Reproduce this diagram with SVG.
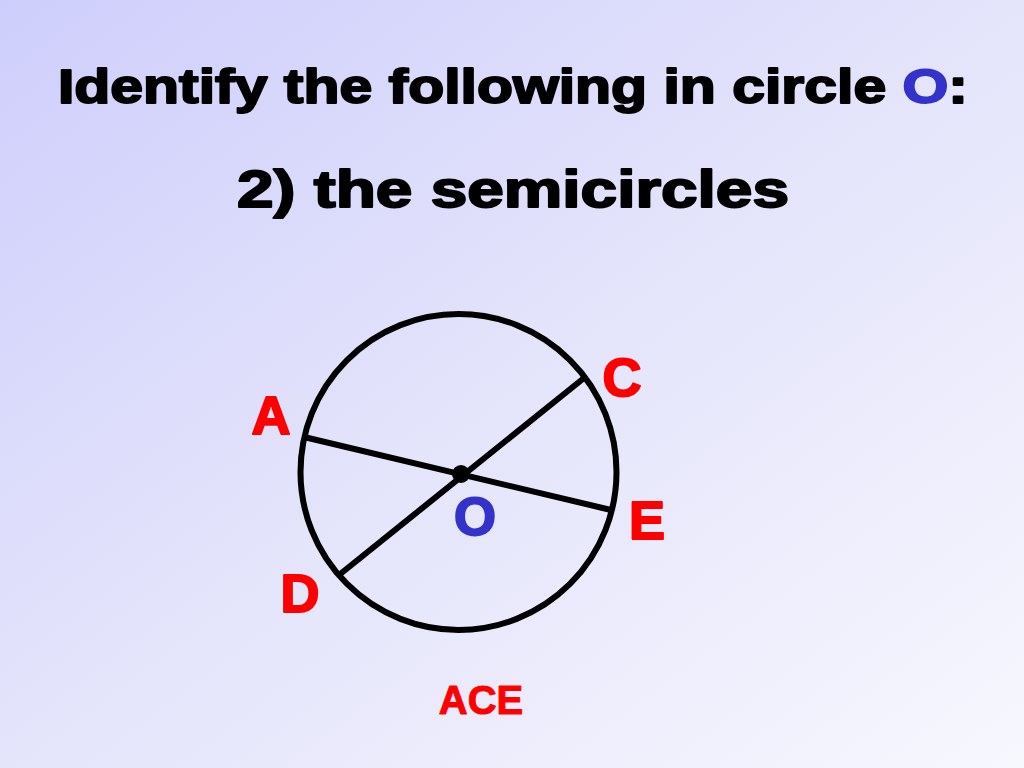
<svg xmlns="http://www.w3.org/2000/svg" width="1024" height="768" viewBox="0 0 1024 768">
  <defs>
    <linearGradient id="bg" x1="0" y1="0" x2="1" y2="1">
      <stop offset="0" stop-color="#CECEFC"/>
      <stop offset="0.5" stop-color="#E4E4FB"/>
      <stop offset="1" stop-color="#F7F7FE"/>
    </linearGradient>
    <style>
      .t { font-family: "Liberation Sans", Arial, sans-serif; font-weight: bold; stroke-linejoin: round; }
      .blk { fill: #000; stroke: #000; stroke-width: 2; }
      .red { fill: #FF0000; stroke: #FF0000; stroke-width: 2; }
      .blue { fill: #3333CC; stroke: #3333CC; stroke-width: 2; }
      .thin { stroke-width: 1; }
      .ln { stroke: #000; stroke-width: 6; fill: none; }
    </style>
  </defs>
  <rect width="1024" height="768" fill="url(#bg)"/>
  <g id="title">
    <text class="t blk" x="513" y="103" font-size="49" text-anchor="middle" textLength="910" lengthAdjust="spacingAndGlyphs">Identify the following in circle <tspan class="blue">O</tspan>:</text>
  </g>
  <g id="subtitle">
    <text class="t blk" x="513" y="207" font-size="52" text-anchor="middle" textLength="552" lengthAdjust="spacingAndGlyphs">2) the semicircles</text>
  </g>
  <g id="circle">
    <circle cx="458.5" cy="472" r="158" class="ln"/>
  </g>
  <g id="connectors">
    <line x1="304" y1="437" x2="611" y2="510" class="ln"/>
    <line x1="584" y1="378" x2="339" y2="575" class="ln"/>
  </g>
  <g id="center">
    <circle cx="461" cy="474" r="9" fill="#000"/>
  </g>
  <g id="labels">
    <text class="t red" x="271" y="434" font-size="54" text-anchor="middle">A</text>
    <text class="t red" x="622" y="396" font-size="54" text-anchor="middle">C</text>
    <text class="t red" x="647" y="539" font-size="54" text-anchor="middle">E</text>
    <text class="t red" x="300" y="612" font-size="54" text-anchor="middle">D</text>
    <text class="t blue" x="475" y="535" font-size="54" text-anchor="middle">O</text>
  </g>
  <g id="answer">
    <text class="t red thin" x="481" y="714" font-size="40" text-anchor="middle">ACE</text>
  </g>
</svg>
